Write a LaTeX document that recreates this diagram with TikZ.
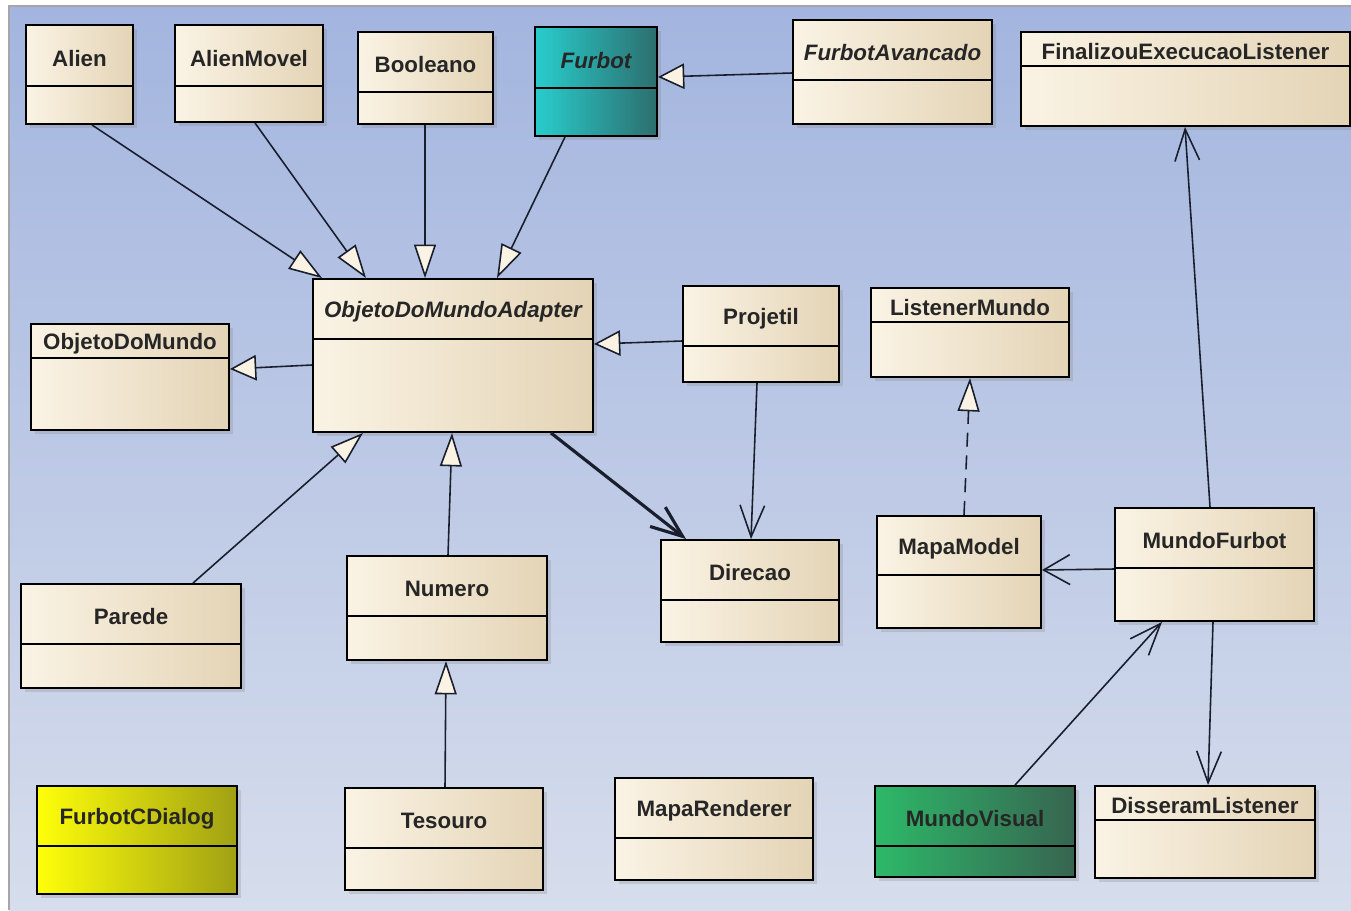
\documentclass[tikz,border=0pt]{standalone}
\usepackage{fontspec}
\setmainfont{Liberation Sans}
\usetikzlibrary{arrows.meta,fit,shadows}

\definecolor{bgtop}{RGB}{163,181,223}
\definecolor{bgbot}{RGB}{214,221,236}
\definecolor{creamA}{RGB}{250,243,228}
\definecolor{creamB}{RGB}{228,212,182}
\definecolor{tealA}{RGB}{40,205,205}
\definecolor{tealB}{RGB}{45,110,110}
\definecolor{yelA}{RGB}{255,255,10}
\definecolor{yelB}{RGB}{160,160,20}
\definecolor{grnA}{RGB}{45,185,105}
\definecolor{grnB}{RGB}{55,100,80}
\definecolor{edge}{RGB}{25,30,45}

% class box: name, x1, y1, x2, y2, divider y, label, extra style
\newcommand{\umlclass}[8]{%
  \node[classbox,#8,fit={(#2,#3) (#4,#5)}] (#1) {};
  \draw[line width=1pt] (#2,#6) -- (#4,#6);
  \node[classname] at ({(#2+#4)/2},{(#3+#6)/2}) {#7};
}

\begin{document}
\begin{tikzpicture}[x=0.02cm,y=-0.02cm,
  classbox/.style={draw=black,line width=1.1pt,inner sep=0pt,
    left color=creamA,right color=creamB,
    drop shadow={opacity=0.25,shadow xshift=2pt,shadow yshift=-2pt}},
  classname/.style={font=\fontsize{12.7}{15}\selectfont\bfseries,text=black!85,yshift=-1.6pt},
  gen/.style={draw=edge,line width=0.9pt,-{Triangle[length=19pt,width=12.5pt,fill=creamA]}},
  genh/.style={draw=edge,line width=0.9pt,-{Triangle[length=15pt,width=14.5pt,fill=creamA]}},
  nav/.style={draw=edge,line width=0.9pt,-{Straight Barb[length=18pt,width=14pt]}},
  navh/.style={draw=edge,line width=0.9pt,-{Straight Barb[length=15pt,width=17pt]}}]
\useasboundingbox (0,0) rectangle (1351,910);
\fill[white] (0,0) rectangle (1351,910);
\shade[top color=bgtop,bottom color=bgbot] (9,6) rectangle (1351,910);
\draw[gray!70,line width=1pt] (9,910) -- (9,6) -- (1351,6);

% classes
\umlclass{alien}{26}{25}{133}{124}{86}{Alien}{}
\umlclass{alienmovel}{175}{25}{323}{122}{86}{AlienMovel}{}
\umlclass{booleano}{358}{32}{493}{124}{92}{Booleano}{}
\umlclass{furbot}{535}{27}{657}{136}{88}{\itshape Furbot}{left color=tealA,right color=tealB}
\umlclass{furbotavancado}{793}{20}{992}{124}{80}{\itshape FurbotAvancado}{}
\umlclass{finalizou}{1021}{32}{1350}{126}{66}{FinalizouExecucaoListener}{}
\umlclass{adapter}{313}{279}{593}{432}{339}{\itshape ObjetoDoMundoAdapter}{}
\umlclass{objetodomundo}{31}{324}{229}{430}{358}{ObjetoDoMundo}{}
\umlclass{projetil}{683}{286}{839}{382}{346}{Projetil}{}
\umlclass{listenermundo}{871}{288}{1069}{377}{322}{ListenerMundo}{}
\umlclass{parede}{21}{584}{241}{688}{644}{Parede}{}
\umlclass{numero}{347}{556}{547}{660}{616}{Numero}{}
\umlclass{direcao}{661}{540}{839}{642}{600}{Direcao}{}
\umlclass{mapamodel}{877}{516}{1041}{628}{575}{MapaModel}{}
\umlclass{mundofurbot}{1115}{508}{1314}{621}{568}{MundoFurbot}{}
\umlclass{dialog}{37}{786}{237}{894}{846}{FurbotCDialog}{left color=yelA,right color=yelB}
\umlclass{tesouro}{345}{788}{543}{890}{848}{Tesouro}{}
\umlclass{maparenderer}{615}{778}{813}{880}{838}{MapaRenderer}{}
\umlclass{mundovisual}{875}{786}{1075}{877}{846}{MundoVisual}{left color=grnA,right color=grnB}
\umlclass{disseram}{1095}{786}{1315}{878}{820}{DisseramListener}{}

% generalizations
\draw[gen] (alien.south -| 92,0) -- (adapter.north -| 322,0);
\draw[gen] (alienmovel.south -| 255,0) -- (adapter.north -| 366,0);
\draw[gen] (booleano.south -| 425,0) -- (adapter.north -| 425,0);
\draw[gen] (furbot.south -| 565,0) -- (adapter.north -| 497,0);
\draw[genh] (furbotavancado.west |- 0,73) -- (furbot.east |- 0,77);
\draw[genh] (adapter.west |- 0,365) -- (objetodomundo.east |- 0,369);
\draw[genh] (projetil.west |- 0,341) -- (adapter.east |- 0,344);
\draw[gen] (parede.north -| 193,0) -- (adapter.south -| 363,0);
\draw[gen] (numero.north -| 448,0) -- (adapter.south -| 452,0);
\draw[gen] (tesouro.north -| 445,0) -- (numero.south -| 446,0);
\draw[gen,dashed,dash pattern=on 8pt off 5pt] (mapamodel.north -| 964,0) -- (listenermundo.south -| 970,0);

% associations
\draw[nav,line width=1.8pt] (adapter.south -| 551,0) -- (direcao.north -| 686,0);
\draw[nav] (projetil.south -| 757,0) -- (direcao.north -| 751,0);
\draw[navh] (mundofurbot.west |- 0,569) -- (mapamodel.east |- 0,570);
\draw[nav] (mundofurbot.north -| 1210,0) -- (finalizou.south -| 1185,0);
\draw[nav] (mundovisual.north -| 1015,0) -- (mundofurbot.south -| 1162,0);
\draw[nav] (mundofurbot.south -| 1213,0) -- (disseram.north -| 1208,0);
\end{tikzpicture}
\end{document}
